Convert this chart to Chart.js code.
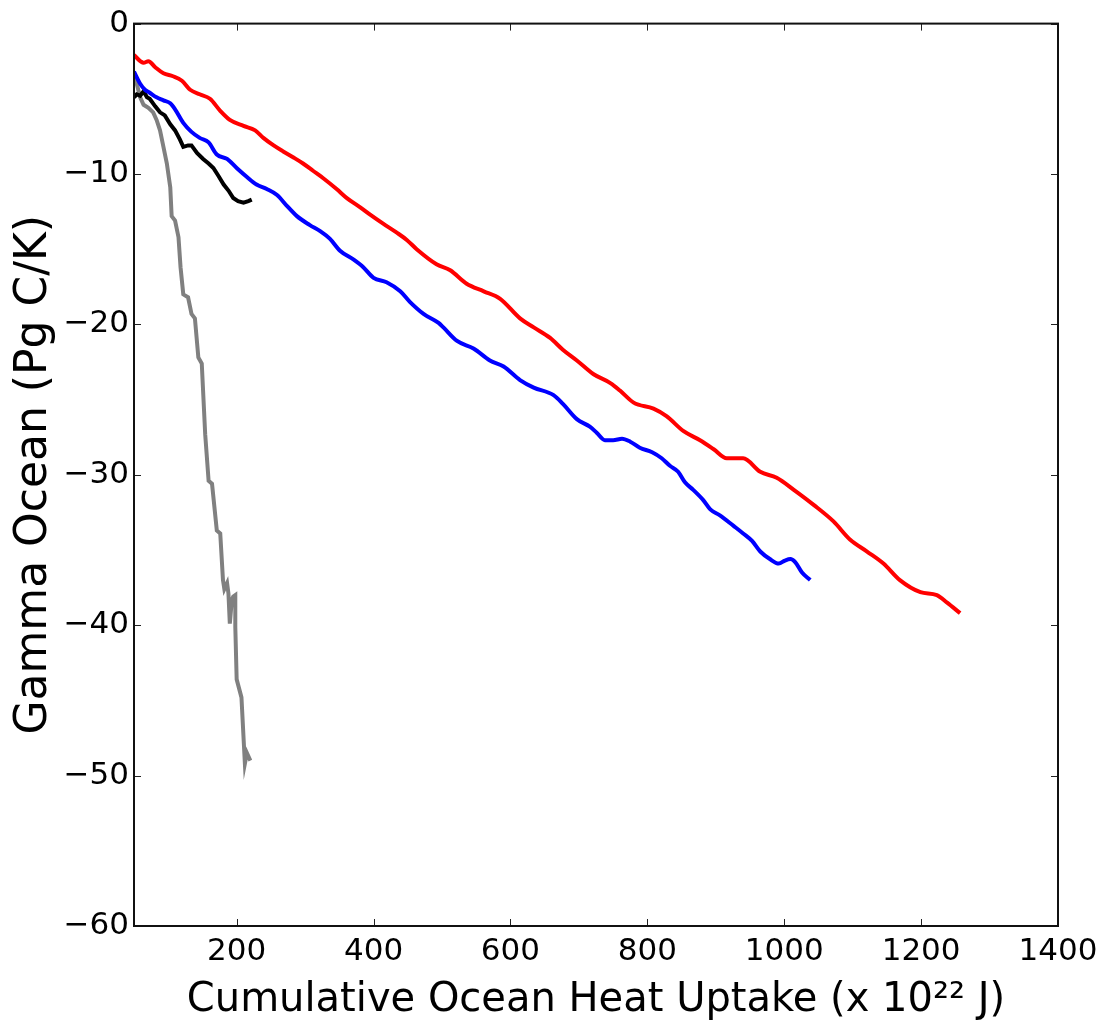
<!DOCTYPE html>
<html>
<head>
<meta charset="utf-8">
<script src="https://cdn.jsdelivr.net/npm/chart.js@4.4.1/dist/chart.umd.min.js"></script>
<style>
  html, body { margin: 0; padding: 0; background: #fff; }
  #wrap { width: 1110px; height: 1025px; }
</style>
</head>
<body>
<div id="wrap"><canvas id="myChart" width="1110" height="1025"></canvas></div>
<script>
const xTicks = [200, 400, 600, 800, 1000, 1200, 1400];
const yTicks = [-60, -50, -40, -30, -20, -10, 0];

const redX = [50, 64, 71, 81, 93, 107, 120, 132, 146, 161, 176, 190, 210, 227, 239, 254, 268, 283, 297, 312,
  327, 346, 361, 380, 395, 414, 434, 449, 463, 492, 512, 536, 561, 585, 614, 634, 658, 677, 697, 721,
  746, 760, 780, 809, 828, 853, 877, 897, 916, 940, 965, 989, 1014, 1043, 1072, 1096, 1121, 1145, 1169, 1199,
  1223, 1238, 1257];
const redY = [-2.1, -2.6, -2.5, -2.9, -3.3, -3.5, -3.8, -4.4, -4.7, -5.0, -5.8, -6.4, -6.8, -7.1, -7.6, -8.1, -8.5, -8.9, -9.3, -9.8,
  -10.3, -11.0, -11.6, -12.2, -12.7, -13.3, -13.9, -14.4, -15.0, -16.0, -16.4, -17.3, -17.8, -18.3, -19.6, -20.2, -20.9, -21.7, -22.4, -23.3,
  -23.9, -24.4, -25.2, -25.6, -26.1, -27.1, -27.7, -28.3, -28.9, -28.9, -29.8, -30.2, -31.0, -32.0, -33.1, -34.3, -35.1, -35.9, -37.0, -37.8,
  -38.0, -38.5, -39.2];

const blueX = [50, 59, 66, 73, 83, 93, 103, 110, 122, 134, 146, 159, 171, 186, 200, 215, 229, 244, 259, 273,
  288, 307, 322, 336, 351, 371, 385, 400, 419, 439, 453, 473, 495, 502, 522, 546, 570, 590, 614, 634,
  663, 677, 697, 716, 726, 738, 750, 763, 775, 789, 807, 821, 833, 845, 855, 867, 882, 892, 906, 926,
  940, 953, 965, 979, 992, 1001, 1009, 1016, 1026, 1038];
const blueY = [-3.2, -4.0, -4.4, -4.6, -4.9, -5.1, -5.3, -5.7, -6.6, -7.2, -7.6, -7.9, -8.7, -9.0, -9.6, -10.2, -10.7, -11.0, -11.4, -12.1,
  -12.8, -13.4, -13.8, -14.3, -15.1, -15.7, -16.2, -16.9, -17.2, -17.8, -18.5, -19.3, -19.9, -20.2, -21.1, -21.6, -22.4, -22.8, -23.7, -24.2,
  -24.7, -25.3, -26.3, -26.8, -27.2, -27.7, -27.7, -27.6, -27.8, -28.2, -28.5, -28.9, -29.4, -29.8, -30.5, -31.0, -31.7, -32.3, -32.7, -33.4,
  -33.9, -34.4, -35.1, -35.6, -35.9, -35.7, -35.6, -35.8, -36.5, -37.0];

const blackX = [50, 54, 59, 64, 69, 73, 81, 88, 95, 103, 110, 117, 122, 129, 134, 142, 151, 159, 166, 173,
  181, 188, 195, 202, 210, 217, 222];
const blackY = [-4.9, -4.7, -4.8, -4.5, -4.9, -5.0, -5.5, -5.9, -6.1, -6.7, -7.1, -7.7, -8.2, -8.1, -8.1, -8.6, -9.0, -9.3, -9.6, -10.1,
  -10.7, -11.1, -11.6, -11.8, -11.9, -11.8, -11.7];

const grayX = [50, 54, 59, 64, 71, 78, 83, 88, 93, 98, 103, 105, 110, 115, 118, 122, 129, 134, 139, 144,
  149, 154, 159, 164, 171, 176, 180, 182, 186, 188, 190, 193, 195, 198, 198, 200, 207, 212, 215, 220];
const grayY = [-3.4, -4.0, -4.9, -5.4, -5.6, -5.9, -6.4, -7.1, -8.2, -9.3, -10.9, -12.8, -13.1, -14.2, -16.2, -18.0, -18.2, -19.3, -19.6, -22.2,
  -22.6, -27.3, -30.4, -30.6, -33.7, -33.9, -37.0, -37.6, -37.2, -37.9, -39.9, -38.3, -38.1, -38.0, -40.1, -43.6, -44.8, -49.2, -48.5, -49.0];

function toPoints(xs, ys) {
  return xs.map((x, i) => ({ x: x, y: ys[i] }));
}

// box round the plot with inward ticks on all four sides
const frame = {
  id: 'frame',
  afterDatasetsDraw(chart) {
    const { ctx, chartArea: a, scales: { x, y } } = chart;
    const len = 7;
    ctx.save();
    ctx.strokeStyle = '#222';
    ctx.lineWidth = 1;
    ctx.beginPath();
    x.ticks.forEach(t => {
      const px = Math.round(x.getPixelForValue(t.value)) + 0.5;
      ctx.moveTo(px, a.bottom); ctx.lineTo(px, a.bottom - len);
      ctx.moveTo(px, a.top); ctx.lineTo(px, a.top + len);
    });
    y.ticks.forEach(t => {
      const py = Math.round(y.getPixelForValue(t.value)) + 0.5;
      ctx.moveTo(a.left, py); ctx.lineTo(a.left + len, py);
      ctx.moveTo(a.right, py); ctx.lineTo(a.right - len, py);
    });
    ctx.stroke();
    ctx.lineWidth = 2;
    ctx.strokeStyle = '#111';
    ctx.strokeRect(a.left, a.top, a.right - a.left, a.bottom - a.top);
    ctx.restore();
  }
};

const fontFamily = '"DejaVu Sans", sans-serif';

new Chart('myChart', {
  type: 'scatter',
  data: {
    datasets: [
      { data: toPoints(redX, redY), borderColor: '#ff0000', borderWidth: 4, cubicInterpolationMode: 'monotone' },
      { data: toPoints(blueX, blueY), borderColor: '#0000ff', borderWidth: 4, cubicInterpolationMode: 'monotone' },
      { data: toPoints(blackX, blackY), borderColor: '#000000', borderWidth: 4 },
      { data: toPoints(grayX, grayY), borderColor: '#808080', borderWidth: 4 }
    ]
  },
  options: {
    responsive: false,
    animation: false,
    devicePixelRatio: 1,
    showLine: true,
    elements: { point: { radius: 0, hoverRadius: 0 }, line: { fill: false } },
    layout: { padding: { left: 0, top: 23, right: 52, bottom: 0 } },
    plugins: { legend: { display: false }, tooltip: { enabled: false } },
    scales: {
      x: {
        type: 'linear',
        min: 50,
        max: 1400,
        afterBuildTicks: s => { s.ticks = xTicks.map(v => ({ value: v })); },
        afterFit: s => { s.height = 99; },
        grid: { display: false, drawTicks: false },
        border: { display: false },
        ticks: {
          color: '#000',
          padding: 7,
          maxRotation: 0,
          font: { family: fontFamily, size: 31 },
          callback: v => String(v)
        },
        title: {
          display: true,
          text: 'Cumulative Ocean Heat Uptake (x 10²² J)',
          color: '#000',
          font: { family: fontFamily, size: 40, lineHeight: 1 },
          padding: { top: 0, bottom: 4 }
        }
      },
      y: {
        type: 'linear',
        min: -60,
        max: 0,
        afterBuildTicks: s => { s.ticks = yTicks.map(v => ({ value: v })); },
        afterFit: s => { s.width = 134; },
        grid: { display: false, drawTicks: false },
        border: { display: false },
        ticks: {
          color: '#000',
          padding: 5,
          font: { family: fontFamily, size: 31 },
          callback: v => String(v).replace('-', '\u2212')
        },
        title: {
          display: true,
          text: 'Gamma Ocean (Pg C/K)',
          color: '#000',
          font: { family: fontFamily, size: 44, lineHeight: 1 },
          padding: { top: 13, bottom: 0 }
        }
      }
    }
  },
  plugins: [frame]
});
</script>
</body>
</html>
